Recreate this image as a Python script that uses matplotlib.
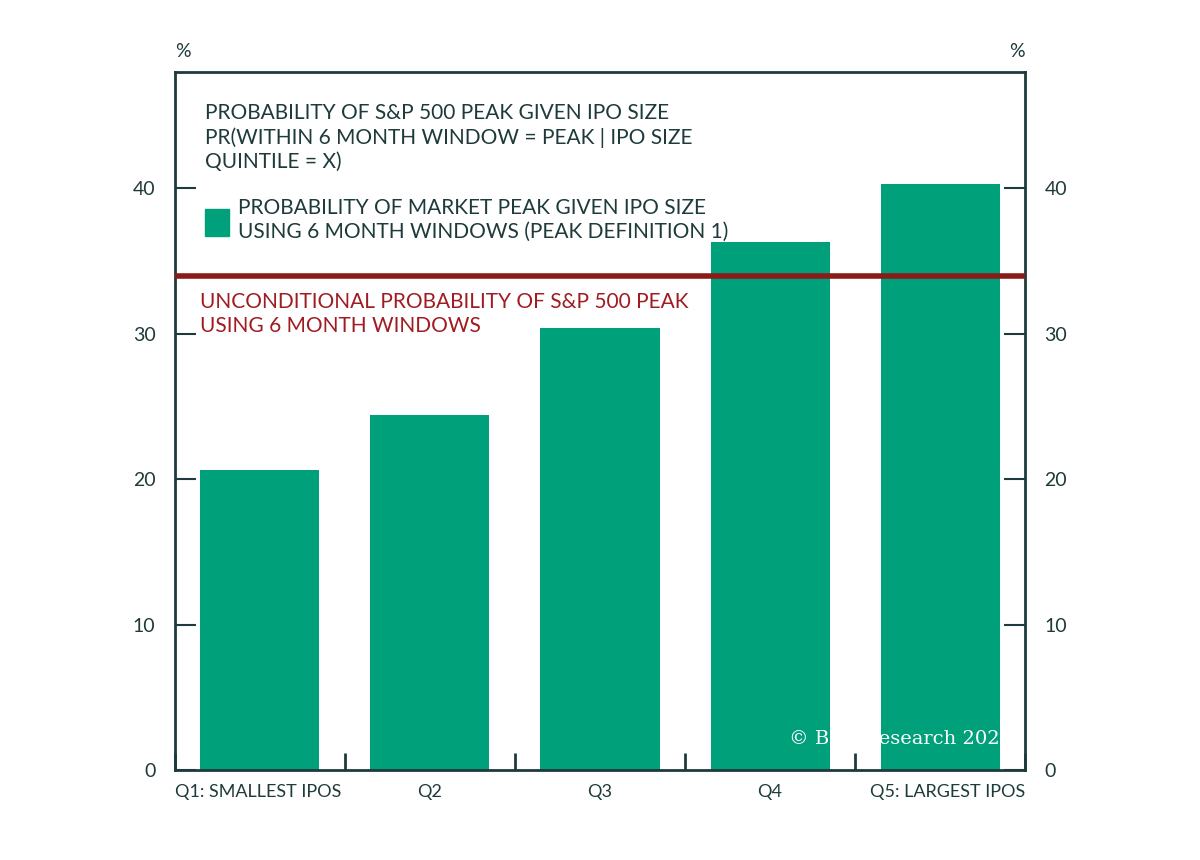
import matplotlib
matplotlib.use("Agg")
import matplotlib.pyplot as plt
from matplotlib.patches import Rectangle

categories = ["Q1: SMALLEST IPOS", "Q2", "Q3", "Q4", "Q5: LARGEST IPOS"]
values = [20.6, 24.4, 30.4, 36.3, 40.3]
unconditional = 34.0
yticks = [0, 10, 20, 30, 40]

plt.rcParams['font.family'] = ['Lato', 'DejaVu Sans']
dark = '#1e3a3a'
green = '#00a07a'
red = '#8b1a1a'

fig = plt.figure(figsize=(12, 8.6), dpi=100)
ax = fig.add_axes([0.1458, 0.1047, 0.7084, 0.8116])
x = list(range(len(categories)))
ax.bar(x, values, width=0.7, color=green, zorder=2)
ax.axhline(unconditional, color=red, lw=4, zorder=3)
ax.set_xlim(-0.5, 4.5)
ax.set_ylim(0, 48)
for s in ax.spines.values():
    s.set_color(dark); s.set_linewidth(2)
ax.set_yticks(yticks)
ax.tick_params(axis='y', direction='in', length=15, width=1.5, color=dark,
               labelsize=14, labelcolor=dark, pad=14, right=True, labelright=True)
ax.set_xticks(x)
ax.set_xticklabels(categories)
ax.tick_params(axis='x', length=0, labelsize=13, labelcolor=dark, pad=10)
ax.set_xticks([i + 0.5 for i in range(-1, 5)], minor=True)
ax.tick_params(axis='x', which='minor', direction='in', length=12, width=2, color=dark)
for t, ha in zip(ax.get_xticklabels(), ['left', 'center', 'center', 'center', 'right']):
    t.set_ha(ha)
ax.get_xticklabels()[0].set_x(-0.5)
lbls = ax.get_xticklabels()
import matplotlib.transforms as mt
lbls[0].set_transform(lbls[0].get_transform() + mt.ScaledTranslation(-85/100, 0, fig.dpi_scale_trans))
lbls[4].set_transform(lbls[4].get_transform() + mt.ScaledTranslation(85/100, 0, fig.dpi_scale_trans))

fig.text(0.1458, 0.93, '%', color=dark, fontsize=14, ha='left', va='bottom')
fig.text(0.854, 0.93, '%', color=dark, fontsize=14, ha='right', va='bottom')

ax.text(0.035, 0.955, 'PROBABILITY OF S&P 500 PEAK GIVEN IPO SIZE\nPR(WITHIN 6 MONTH WINDOW = PEAK | IPO SIZE\nQUINTILE = X)',
        transform=ax.transAxes, color=dark, fontsize=15, va='top', ha='left', linespacing=1.25)
ax.add_patch(Rectangle((0.035, 0.765), 0.028, 0.038, transform=ax.transAxes, color=green, zorder=4))
ax.text(0.074, 0.82, 'PROBABILITY OF MARKET PEAK GIVEN IPO SIZE\nUSING 6 MONTH WINDOWS (PEAK DEFINITION 1)',
        transform=ax.transAxes, color=dark, fontsize=15, va='top', ha='left', linespacing=1.25)
ax.text(0.03, 0.685, 'UNCONDITIONAL PROBABILITY OF S&P 500 PEAK\nUSING 6 MONTH WINDOWS',
        transform=ax.transAxes, color='#a01c22', fontsize=15, va='top', ha='left', linespacing=1.25, zorder=5)
ax.text(0.985, 0.045, '© BCα Research 2026', transform=ax.transAxes, color='white',
        fontsize=14, family='DejaVu Serif', ha='right', va='center', zorder=5)
fig.savefig('out.png', dpi=100, facecolor='white')
